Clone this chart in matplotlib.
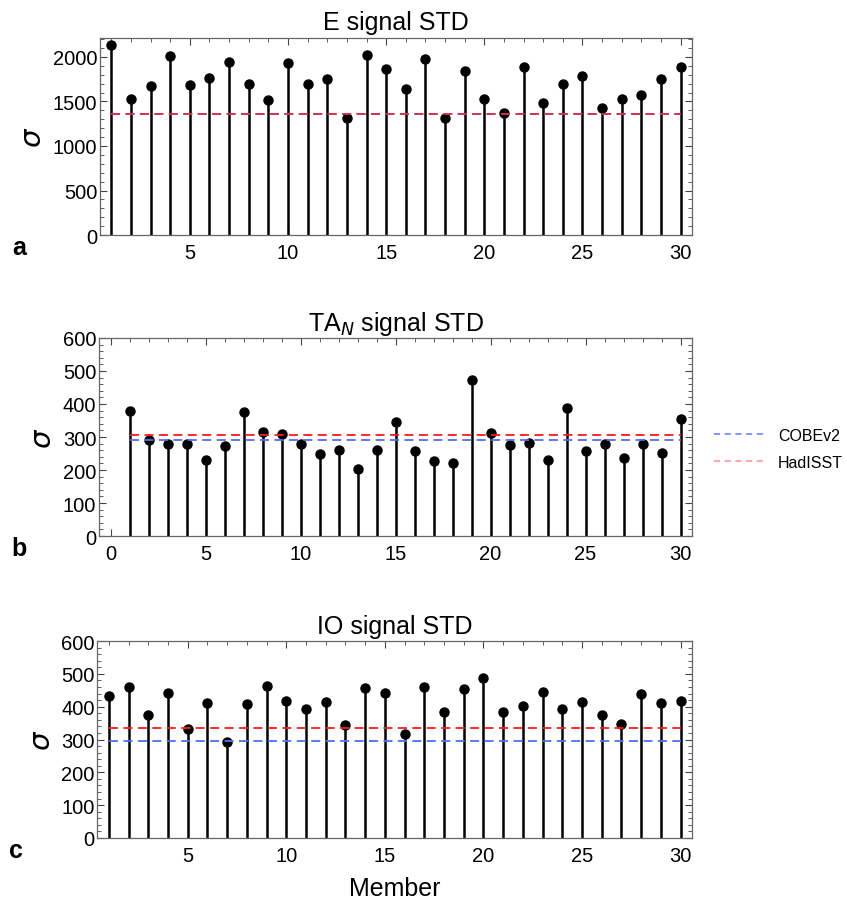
import numpy as np
import matplotlib.pyplot as plt
from matplotlib.ticker import MultipleLocator

plt.rcParams['font.family'] = ['Liberation Sans', 'DejaVu Sans']

members = np.arange(1, 31)

# standard deviation of each ensemble member's signal
e_std = [2130, 1525, 1668, 2011, 1679, 1758, 1947, 1698, 1513, 1928,
         1698, 1747, 1317, 2019, 1864, 1645, 1981, 1317, 1841, 1532,
         1366, 1887, 1479, 1698, 1781, 1423, 1532, 1574, 1751, 1887]
ta_std = [379, 292, 278, 278, 229, 273, 376, 314, 308, 280,
          247, 262, 204, 262, 345, 259, 226, 221, 474, 311,
          276, 282, 231, 389, 259, 278, 236, 280, 251, 356]
io_std = [432, 460, 374, 441, 331, 411, 293, 408, 463, 416,
          392, 413, 343, 457, 443, 316, 460, 384, 454, 487,
          384, 403, 446, 392, 413, 375, 347, 440, 411, 416]

# observed values (COBEv2, HadISST)
e_obs = [1362, 1363]
ta_obs = [290, 306]
io_obs = [296, 334]

titles = ['E signal STD', r'TA$_N$ signal STD', 'IO signal STD']
letters = ['a', 'b', 'c']
blue = '#4d6ff5'
red = '#ff1a1a'

fig = plt.figure(figsize=(8.47, 9.03), dpi=100)
boxes = [[0.118, 0.7386, 0.699, 0.2185],
         [0.117, 0.4053, 0.700, 0.2193],
         [0.115, 0.0709, 0.702, 0.2181]]

panels = [(e_std, e_obs, (0, 2215), 500, 100),
          (ta_std, ta_obs, (0, 600), 100, 20),
          (io_std, io_obs, (0, 600), 100, 20)]

for i, (vals, obs, ylim, major, minor) in enumerate(panels):
    ax = fig.add_axes(boxes[i])
    ax.vlines(members, 0, vals, color='black', lw=1.8, zorder=2)
    ax.plot(members, vals, 'o', color='black', ms=6.5, zorder=3)
    if i == 0:
        ax.hlines(obs[0], 1, 30, color=blue, lw=1.3, linestyles=(0, (5, 3)), zorder=4)
        ax.hlines(obs[1], 1, 30, color=red, lw=1.3, linestyles=(0, (5, 3)), alpha=0.8, zorder=5)
    else:
        ax.hlines(obs[0], 1, 30, color=blue, lw=1.3, linestyles=(0, (5, 3)), zorder=4)
        ax.hlines(obs[1], 1, 30, color=red, lw=1.3, linestyles=(0, (5, 3)), zorder=4)

    ax.set_ylim(*ylim)
    if i == 1:
        ax.set_xlim(-0.6, 30.6)
        ax.set_xticks(range(0, 31, 5))
    else:
        ax.set_xlim(0.42, 30.58)
        ax.set_xticks(range(5, 31, 5))
    ax.xaxis.set_minor_locator(MultipleLocator(1))
    ax.yaxis.set_major_locator(MultipleLocator(major))
    ax.yaxis.set_minor_locator(MultipleLocator(minor))
    ax.tick_params(which='both', direction='in', top=True, right=True,
                   color='#444444', labelsize=14.5)
    ax.tick_params(axis='x', pad=6)
    ax.tick_params(axis='y', pad=2)
    ax.tick_params(which='major', length=5, width=0.8)
    ax.tick_params(which='minor', length=3, width=0.6)
    for s in ax.spines.values():
        s.set_color('#666666')
        s.set_linewidth(0.9)

    ax.set_title(titles[i], fontsize=18, pad=6)
    ax.set_ylabel(r'$\sigma$', fontsize=21, labelpad=4)
    ax.text(-0.148, -0.06, letters[i], transform=ax.transAxes,
            fontsize=18, fontweight='bold', va='center', ha='left')

    if i == 2:
        ax.set_xlabel('Member', fontsize=18, labelpad=8)

# legend placed to the right of the middle panel
handles = [plt.Line2D([], [], color=blue, lw=1.1, ls=(0, (4, 3)), alpha=0.9),
           plt.Line2D([], [], color=red, lw=1.1, ls=(0, (4, 3)), alpha=0.5)]
fig.legend(handles, ['COBEv2', 'HadISST'], loc='center left',
           bbox_to_anchor=(0.826, 0.502), frameon=False, fontsize=11.5,
           handlelength=3.2, labelspacing=0.75)

fig.savefig('out.png', dpi=100)
